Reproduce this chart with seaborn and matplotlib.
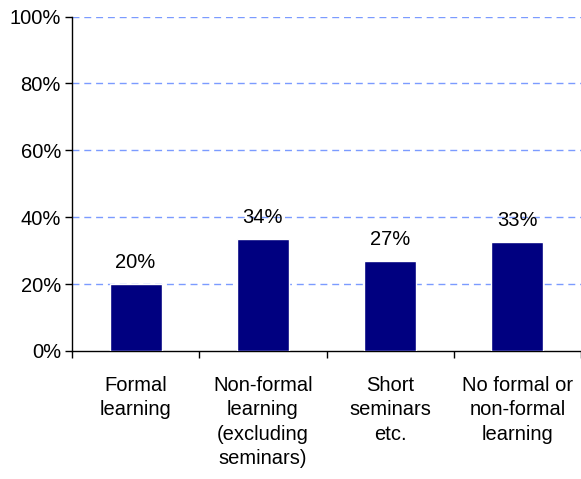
import pandas as pd
import numpy as np
import seaborn as sns
import matplotlib.pyplot as plt
from matplotlib.ticker import FixedLocator, PercentFormatter

# data
categories = ['Formal\nlearning', 'Non-formal\nlearning\n(excluding\nseminars)',
              'Short\nseminars\netc.', 'No formal or\nnon-formal\nlearning']
shares = [0.201, 0.336, 0.269, 0.326]
bar_labels = ['20%', '34%', '27%', '33%']

df = pd.DataFrame({'category': categories, 'share': shares})

sns.set_style('white')
plt.rcParams['font.family'] = ['Liberation Sans', 'DejaVu Sans']

fig = plt.figure(figsize=(5.81, 4.79), dpi=100)
ax = fig.add_axes([72/581, 1 - 351/479, 1 - 72/581, (351 - 16.5)/479])

sns.barplot(data=df, x='category', y='share', color='#000080', saturation=1,
            width=0.41, ax=ax, zorder=3)

# labels above bars
for i, (v, lab) in enumerate(zip(shares, bar_labels)):
    ax.text(i, v + 0.035, lab, ha='center', va='bottom', fontsize=14.5, color='black')

ax.set_ylim(0, 1)
ax.set_xlim(-0.5, 3.5)
ax.set_yticks(np.arange(0, 1.01, 0.2))
ax.yaxis.set_major_formatter(PercentFormatter(1.0, decimals=0))
ax.set_xlabel('')
ax.set_ylabel('')

# gridlines
for y in np.arange(0.2, 1.01, 0.2):
    ax.axhline(y, color='#7b9bff', linewidth=1, linestyle=(0, (5, 3.5)), zorder=1)

# spines
for s in ['top', 'right']:
    ax.spines[s].set_visible(False)
for s in ['left', 'bottom']:
    ax.spines[s].set_color('black')
    ax.spines[s].set_linewidth(1)

ax.tick_params(axis='y', which='major', direction='out', length=5, width=1,
               color='black', labelcolor='black', labelsize=14.5, pad=3, left=True)
ax.tick_params(axis='x', which='major', length=0, labelsize=14.5, pad=18,
               labelcolor='black')
ax.xaxis.set_minor_locator(FixedLocator([-0.5, 0.5, 1.5, 2.5, 3.5]))
ax.tick_params(axis='x', which='minor', direction='out', length=5, width=1,
               color='black', bottom=True)
for t in ax.get_xticklabels():
    t.set_linespacing(1.35)
    t.set_va('top')

fig.savefig('out.png', dpi=100)
